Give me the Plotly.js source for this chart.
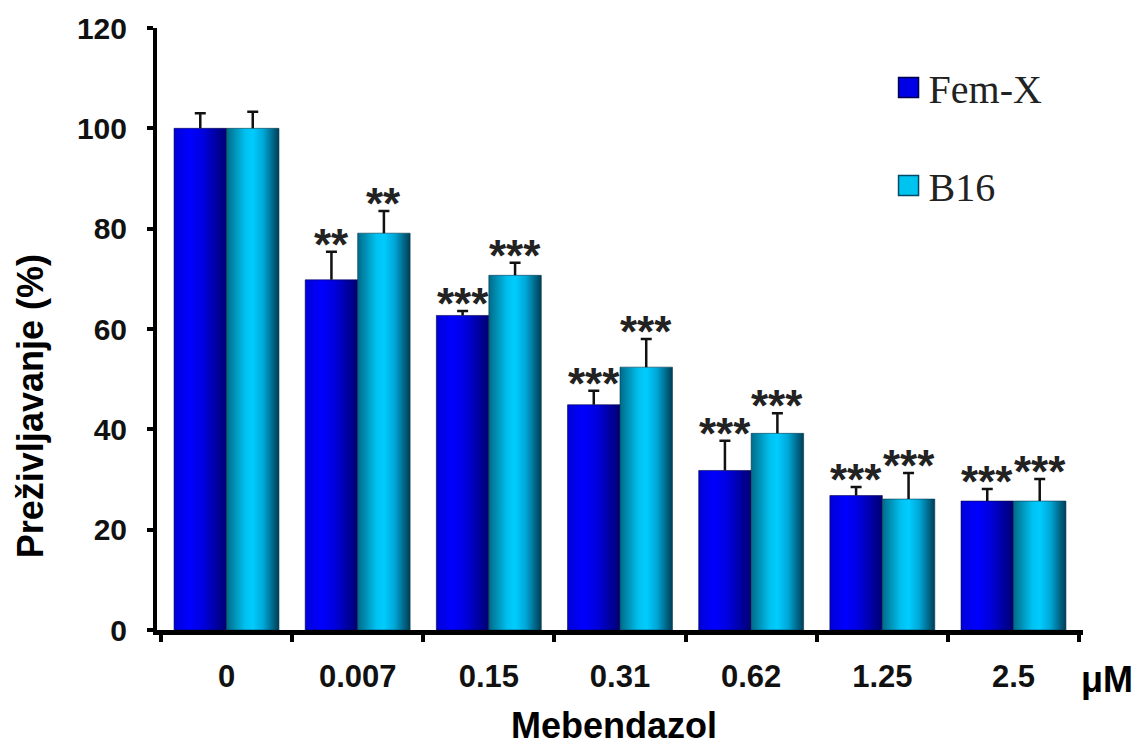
<!DOCTYPE html>
<html>
<head>
<meta charset="utf-8">
<script src="https://cdn.plot.ly/plotly-3.0.1.min.js"></script>
<style>
  html, body { margin: 0; padding: 0; background: #ffffff; }
  #chart { width: 1138px; height: 748px; }
</style>
</head>
<body>
<div id="chart"></div>
<script>
// ---- data ----
var categories = ['0', '0.007', '0.15', '0.31', '0.62', '1.25', '2.5'];
var femxValues = [100, 69.8, 62.7, 44.9, 31.8, 26.8, 25.7];
var femxErrors = [3.0, 5.6, 0.9, 2.8, 5.9, 1.7, 2.4];
var b16Values = [100, 79.1, 70.7, 52.4, 39.2, 26.1, 25.7];
var b16Errors = [3.3, 4.4, 2.5, 5.6, 4.0, 5.2, 4.4];
var femxSignif = ['', '**', '***', '***', '***', '***', '***'];
var b16Signif = ['', '**', '***', '***', '***', '***', '***'];
var yTickValues = [0, 20, 40, 60, 80, 100, 120];

var barGap = 0.2;
var sansBold = 'Liberation Sans, Arial, sans-serif';

function errorBar(arr) {
  return { type: 'data', array: arr, arrayminus: arr.map(function(){return 0;}),
           symmetric: false, visible: true, color: '#111111', thickness: 2.5, width: 5.5 };
}

var data = [
  { type: 'bar', name: 'Fem-X', x: categories, y: femxValues,
    marker: { color: '#0000e6', line: { color: '#00004a', width: 0.6 } },
    error_y: errorBar(femxErrors), legendgroup: 'a' },
  { type: 'bar', name: 'B16', x: categories, y: b16Values,
    marker: { color: '#00c4f0', line: { color: '#003a50', width: 0.6 } },
    error_y: errorBar(b16Errors), legendgroup: 'b' }
];

var annotations = [];
var off = (1 - barGap) / 4;
var starFont = { family: sansBold, size: 44, color: '#222222', weight: 'bold' };
categories.forEach(function(c, i) {
  if (femxSignif[i]) annotations.push({ x: i - off, y: femxValues[i] + femxErrors[i], xref: 'x', yref: 'y',
    text: femxSignif[i], showarrow: false, yanchor: 'bottom', yshift: -19, font: starFont });
  if (b16Signif[i]) annotations.push({ x: i + off, y: b16Values[i] + b16Errors[i], xref: 'x', yref: 'y',
    text: b16Signif[i], showarrow: false, yanchor: 'bottom', yshift: -19, font: starFont });
});
annotations.push({ text: 'Preživljavanje (%)', xref: 'paper', yref: 'paper', x: -0.137, y: 0.372,
  textangle: -90, showarrow: false, xanchor: 'center', yanchor: 'middle',
  font: { family: sansBold, size: 36, color: '#000000', weight: 'bold' } });
annotations.push({ text: 'Mebendazol', xref: 'paper', yref: 'paper', x: 0.494, y: -0.196,
  showarrow: false, xanchor: 'center', yanchor: 'bottom',
  font: { family: sansBold, size: 36, color: '#000000', weight: 'bold' } });
annotations.push({ text: 'μM', xref: 'paper', yref: 'paper', x: 1.026, y: -0.083,
  showarrow: false, xanchor: 'center', yanchor: 'middle',
  font: { family: sansBold, size: 36, color: '#000000', weight: 'bold' } });

var layout = {
  width: 1138, height: 748,
  margin: { l: 157, r: 55, t: 28, b: 118 },
  paper_bgcolor: '#ffffff', plot_bgcolor: '#ffffff',
  barmode: 'group', bargap: barGap, bargroupgap: 0,
  showlegend: true,
  legend: { x: 0.79, y: 0.955, xanchor: 'left', yanchor: 'top', traceorder: 'grouped',
            tracegroupgap: 43, bgcolor: 'rgba(0,0,0,0)',
            font: { family: 'Liberation Serif, Times New Roman, serif', size: 40, color: '#222222' } },
  xaxis: { type: 'category', range: [-0.53, 6.53], showline: true, linewidth: 5, linecolor: '#000000',
           ticks: 'outside', tickson: 'boundaries', ticklen: 7, tickwidth: 4, tickcolor: '#000000',
           ticklabelstandoff: 15, showgrid: false, zeroline: false,
           tickfont: { family: sansBold, size: 31, color: '#111111', weight: 'bold' } },
  yaxis: { range: [0, 120], tickvals: yTickValues, showline: true, linewidth: 4, linecolor: '#000000',
           ticks: 'outside', ticklen: 6, tickwidth: 4, tickcolor: '#000000',
           ticklabelstandoff: 14, showgrid: false, zeroline: false,
           tickfont: { family: sansBold, size: 30, color: '#111111', weight: 'bold' } },
  annotations: annotations
};

function applyGradients(gd) {
  var ns = 'http://www.w3.org/2000/svg';
  var svg = gd.querySelector('svg.main-svg');
  var defs = svg.querySelector('defs');
  if (!defs) { defs = document.createElementNS(ns, 'defs'); svg.insertBefore(defs, svg.firstChild); }
  function makeGrad(id, stops) {
    var g = document.createElementNS(ns, 'linearGradient');
    g.setAttribute('id', id);
    g.setAttribute('x1', '0'); g.setAttribute('y1', '0'); g.setAttribute('x2', '1'); g.setAttribute('y2', '0');
    stops.forEach(function(s) {
      var st = document.createElementNS(ns, 'stop');
      st.setAttribute('offset', s[0]); st.setAttribute('stop-color', s[1]);
      g.appendChild(st);
    });
    defs.appendChild(g);
  }
  makeGrad('gradFem', [['0', '#0000d8'], ['0.3', '#0000ff'], ['0.55', '#0000e0'], ['1', '#000070']]);
  makeGrad('gradB16', [['0', '#006a88'], ['0.35', '#00c0ee'], ['0.5', '#00ccff'], ['0.7', '#00a8d8'], ['1', '#003d55']]);
  var traces = gd.querySelectorAll('.barlayer .trace.bars');
  var ids = ['gradFem', 'gradB16'];
  traces.forEach(function(t, k) {
    t.querySelectorAll('.point path').forEach(function(p) { p.style.fill = 'url(#' + ids[k] + ')'; });
    // one-sided error bars: drop the lower cap that would sit on the bar top
    t.querySelectorAll('.errorbar path.yerror').forEach(function(p) {
      var d = p.getAttribute('d') || '';
      p.setAttribute('d', d.replace(/m-?[\d.]+,0h[\d.]+$/, ''));
    });
  });
  var legendFills = ['#0000e6', '#00c4f0'];
  var legendLines = ['#00004a', '#004a66'];
  gd.querySelectorAll('.legend .traces').forEach(function(tr, k) {
    tr.querySelectorAll('.legendpoints path').forEach(function(p) {
      p.setAttribute('d', 'M10,10H-10V-10H10Z');
      p.style.fill = legendFills[k % 2];
      p.style.stroke = legendLines[k % 2];
      p.style.strokeWidth = '1.5px';
    });
  });
}

Plotly.newPlot('chart', data, layout, { displayModeBar: false, staticPlot: true }).then(applyGradients);
</script>
</body>
</html>
